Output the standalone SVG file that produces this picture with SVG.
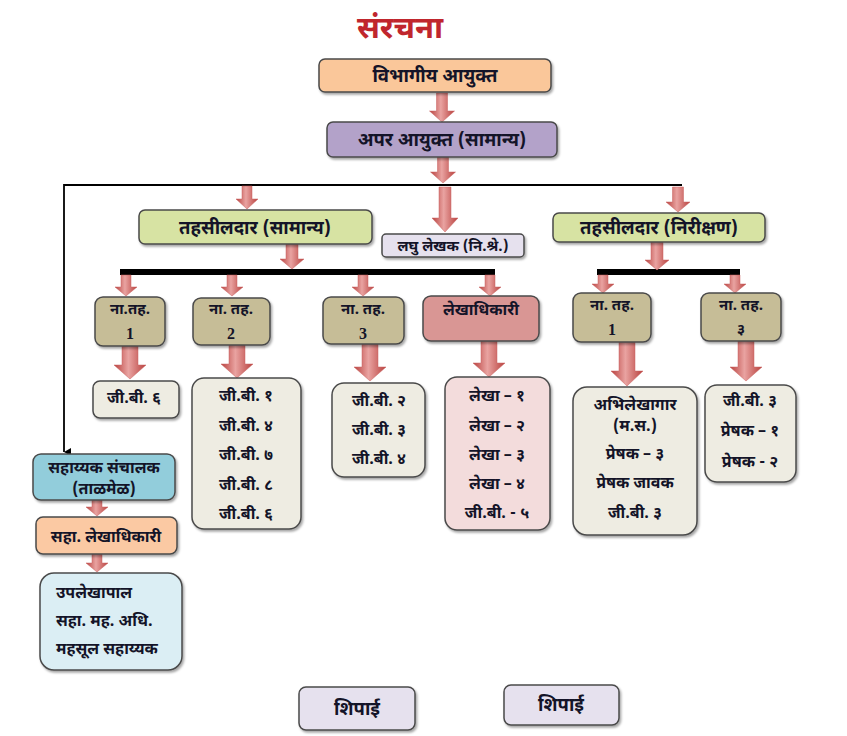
<svg xmlns="http://www.w3.org/2000/svg" width="847" height="736" viewBox="0 0 847 736">
<defs>
<linearGradient id="ag" x1="0" y1="0" x2="1" y2="0">
<stop offset="0" stop-color="#b8403d"/>
<stop offset="0.45" stop-color="#e9a3a1"/>
<stop offset="1" stop-color="#b8403d"/>
</linearGradient>
<filter id="sh" x="-10%" y="-10%" width="130%" height="140%">
<feDropShadow dx="1.5" dy="2" stdDeviation="1.2" flood-color="#000" flood-opacity="0.35"/>
</filter>
<marker id="ah" markerWidth="8" markerHeight="8" refX="4" refY="7" orient="auto" markerUnits="userSpaceOnUse">
<path d="M0,0 L4,7 L8,0 Z" fill="#000"/>
</marker>
</defs>
<style>
.b{stroke:#4a4a4a;stroke-width:1.5;filter:url(#sh)}
.t{font-family:"Noto Sans Devanagari","Lohit Devanagari","Noto Sans",sans-serif;font-weight:bold;fill:#141428;text-anchor:middle}
.n{font-family:"Liberation Serif",serif;font-weight:bold;fill:#141428;text-anchor:middle;font-size:16px}
.f15{font-size:18.5px}
.f13{font-size:16px}
.f14{font-size:15px}
.f12{font-size:15px}
.s{text-anchor:start}
.ar{fill:url(#ag);stroke:#c86360;stroke-width:0.5}
.or{fill:#fac79a}
.lv{fill:#b3a2c9}
.gr{fill:#d7e3a3}
.lv2{fill:#e6e1ee}
.kh{fill:#c6bd97}
.pk{fill:#d99694}
.cr{fill:#eeece2}
.pk2{fill:#f3dcdc}
.bl{fill:#92cddb}
.or2{fill:#fbc9a3}
.bl2{fill:#dbeef4}
</style>

<text x="400" y="38" style="font-family:'Noto Sans Devanagari','Lohit Devanagari','Noto Sans',sans-serif;font-weight:bold;font-size:31px;fill:#c0262d;text-anchor:middle">संरचना</text>

<g id="connectors">
<line x1="64" y1="185" x2="682" y2="185" stroke="#000" stroke-width="1.8"/>
<line x1="64" y1="184" x2="64" y2="452" stroke="#000" stroke-width="1.8" marker-end="url(#ah)"/>
<rect x="120" y="269" width="375" height="6" fill="#000"/>
<rect x="597" y="269" width="143" height="6" fill="#000"/>
<path class="ar" d="M436.5,93 H447.5 V111 H454.5 L442,122 L429.5,111 H436.5 Z"/>
<path class="ar" d="M437.5,157 H448.5 V172 H455.5 L443,183 L430.5,172 H437.5 Z"/>
<path class="ar" d="M242,186 H252 V199 H258 L247,209 L236,199 H242 Z"/>
<path class="ar" d="M439,187 H451 V218 H458 L445,232 L432,218 H439 Z"/>
<path class="ar" d="M672.5,187 H683.5 V202 H690 L678,212 L666,202 H672.5 Z"/>
<path class="ar" d="M286,244 H298 V259 H304 L292,269 L280,259 H286 Z"/>
<path class="ar" d="M651,242 H663 V260 H669 L657,270 L645,260 H651 Z"/>
<path class="ar" d="M121,275 H131 V287 H137 L126,296 L115,287 H121 Z"/>
<path class="ar" d="M227,275 H237 V287 H243 L232,296 L221,287 H227 Z"/>
<path class="ar" d="M358,275 H368 V287 H374 L363,296 L352,287 H358 Z"/>
<path class="ar" d="M485,275 H495 V287 H501 L490,296 L479,287 H485 Z"/>
<path class="ar" d="M598,275 H608 V284 H614 L603,293 L592,284 H598 Z"/>
<path class="ar" d="M730,275 H740 V284 H746 L735,293 L724,284 H730 Z"/>
<path class="ar" d="M122,346 H138 V365 H146 L130,379 L114,365 H122 Z"/>
<path class="ar" d="M229,345 H245 V364 H253 L237,378 L221,364 H229 Z"/>
<path class="ar" d="M362,344 H378 V367 H386 L370,381 L354,367 H362 Z"/>
<path class="ar" d="M481,341 H497 V363 H505 L489,377 L473,363 H481 Z"/>
<path class="ar" d="M619,342 H635 V371 H643 L627,386 L611,371 H619 Z"/>
<path class="ar" d="M738,341 H754 V367 H762 L746,381 L730,367 H738 Z"/>
<path class="ar" d="M92,500 H102 V507 H108 L97,516 L86,507 H92 Z"/>
<path class="ar" d="M92,554 H102 V563 H108 L97,572 L86,563 H92 Z"/>
</g>

<g id="n-vibhagiya"><rect class="b or" x="319" y="59" width="232" height="33" rx="6"/><text class="t f15" x="435" y="82">विभागीय आयुक्त</text></g>
<g id="n-apar"><rect class="b lv" x="327" y="122" width="230" height="35" rx="6"/><text class="t f15" x="442" y="146">अपर आयुक्त (सामान्य)</text></g>
<g id="n-tah-samanya"><rect class="b gr" x="139" y="210" width="233" height="34" rx="6"/><text class="t f15" x="255" y="234">तहसीलदार (सामान्य)</text></g>
<g id="n-laghu"><rect class="b lv2" x="382" y="234" width="142" height="23" rx="4"/><text class="t f12" x="453" y="251">लघु लेखक (नि.श्रे.)</text></g>
<g id="n-tah-nirikshan"><rect class="b gr" x="553" y="213" width="212" height="29" rx="6"/><text class="t f15" x="659" y="234">तहसीलदार (निरीक्षण)</text></g>

<g id="n-nt1"><rect class="b kh" x="95" y="297" width="70" height="49" rx="8"/><text class="t f14" x="130" y="314">ना.तह.</text><text class="n" x="130" y="339">1</text></g>
<g id="n-nt2"><rect class="b kh" x="193" y="298" width="77" height="47" rx="8"/><text class="t f14" x="231" y="314">ना. तह.</text><text class="n" x="231" y="339">2</text></g>
<g id="n-nt3"><rect class="b kh" x="323" y="297" width="81" height="47" rx="8"/><text class="t f14" x="363" y="314">ना. तह.</text><text class="n" x="363" y="339">3</text></g>
<g id="n-lekhadhikari"><rect class="b pk" x="423" y="296" width="116" height="45" rx="8"/><text class="t f13" x="481" y="315">लेखाधिकारी</text></g>
<g id="n-nt1r"><rect class="b kh" x="573" y="293" width="78" height="49" rx="8"/><text class="t f14" x="612" y="310">ना. तह.</text><text class="n" x="612" y="335">1</text></g>
<g id="n-nt3r"><rect class="b kh" x="701" y="293" width="80" height="48" rx="8"/><text class="t f14" x="741" y="310">ना. तह.</text><text class="t f14" x="741" y="334">३</text></g>

<g id="n-gb6"><rect class="b cr" x="93" y="381" width="86" height="37" rx="7"/><text class="t f13" x="134" y="403">जी.बी. ६</text></g>
<g id="n-list2"><rect class="b cr" x="192" y="378" width="109" height="151" rx="12"/>
<text class="t f13" x="246" y="401">जी.बी. १</text><text class="t f13" x="246" y="431">जी.बी. ४</text><text class="t f13" x="246" y="460">जी.बी. ७</text><text class="t f13" x="246" y="490">जी.बी. ८</text><text class="t f13" x="246" y="519">जी.बी. ६</text></g>
<g id="n-list3"><rect class="b cr" x="332" y="383" width="93" height="94" rx="12"/>
<text class="t f13" x="379" y="406">जी.बी. २</text><text class="t f13" x="379" y="435">जी.बी. ३</text><text class="t f13" x="379" y="464">जी.बी. ४</text></g>
<g id="n-lekha"><rect class="b pk2" x="445" y="377" width="105" height="153" rx="12"/>
<text class="t f13" x="497" y="401">लेखा – १</text><text class="t f13" x="497" y="431">लेखा – २</text><text class="t f13" x="497" y="460">लेखा – ३</text><text class="t f13" x="497" y="489">लेखा – ४</text><text class="t f13" x="497" y="518">जी.बी. - ५</text></g>
<g id="n-abhilekh"><rect class="b cr" x="573" y="387" width="124" height="148" rx="14"/>
<text class="t f13" x="635" y="410">अभिलेखागार</text><text class="t f13" x="635" y="431">(म.स.)</text><text class="t f13" x="635" y="459">प्रेषक – ३</text><text class="t f13" x="635" y="488">प्रेषक जावक</text><text class="t f13" x="635" y="518">जी.बी. ३</text></g>
<g id="n-preshak"><rect class="b cr" x="705" y="385" width="91" height="97" rx="12"/>
<text class="t f13" x="750" y="406">जी.बी. ३</text><text class="t f13" x="750" y="436">प्रेषक – १</text><text class="t f13" x="750" y="467">प्रेषक - २</text></g>

<g id="n-sahayak"><rect class="b bl" x="33" y="454" width="142" height="46" rx="8"/><text class="t f13" x="104" y="473">सहाय्यक संचालक</text><text class="t f13" x="104" y="494">(ताळमेळ)</text></g>
<g id="n-saha-lekha"><rect class="b or2" x="36" y="517" width="141" height="37" rx="7"/><text class="t f13" x="106" y="542">सहा. लेखाधिकारी</text></g>
<g id="n-uplekha"><rect class="b bl2" x="40" y="573" width="142" height="97" rx="14"/>
<text class="t f13 s" x="56" y="598">उपलेखापाल</text><text class="t f13 s" x="56" y="626">सहा. मह. अधि.</text><text class="t f13 s" x="56" y="654">महसूल सहाय्यक</text></g>

<g id="n-shipai1"><rect class="b lv2" x="299" y="687" width="116" height="43" rx="7"/><text class="t f15" x="357" y="715">शिपाई</text></g>
<g id="n-shipai2"><rect class="b lv2" x="504" y="685" width="115" height="40" rx="7"/><text class="t f15" x="561" y="711">शिपाई</text></g>
</svg>
